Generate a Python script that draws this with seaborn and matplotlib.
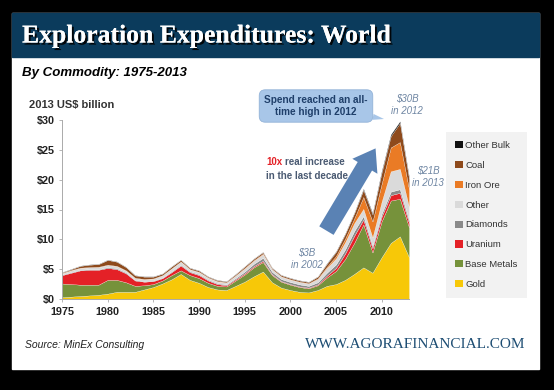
import numpy as np
import pandas as pd
import seaborn as sns
import matplotlib.pyplot as plt
from matplotlib.patches import Rectangle, Patch
import matplotlib.patheffects as pe

# exploration spend by commodity, 2013 US$ billion
years = list(range(1975, 2014))
gold = [0.3, 0.4, 0.5, 0.6, 0.7, 0.9, 1.2, 1.2, 1.2, 1.6,
        2.0, 2.6, 3.3, 4.2, 3.2, 2.7, 2.0, 1.6, 1.5, 2.2,
        2.9, 3.8, 4.6, 2.8, 1.9, 1.5, 1.2, 1.1, 1.5, 2.2,
        2.5, 3.2, 4.2, 5.3, 4.4, 7.0, 9.4, 10.5, 7.0]
base_metals = [2.3, 2.1, 1.9, 1.8, 1.7, 2.3, 2.0, 1.6, 1.0, 0.7,
               0.5, 0.5, 0.7, 0.6, 0.8, 0.8, 0.7, 0.6, 0.6, 0.9,
               1.2, 1.5, 1.6, 1.2, 1.0, 0.9, 0.8, 0.7, 0.8, 1.4,
               2.2, 3.5, 5.2, 7.2, 3.4, 6.0, 7.1, 6.3, 5.0]
uranium = [1.4, 1.9, 2.4, 2.5, 2.5, 2.0, 1.8, 1.5, 0.9, 0.6,
           0.5, 0.4, 0.5, 0.8, 0.5, 0.5, 0.4, 0.3, 0.2, 0.2,
           0.2, 0.2, 0.2, 0.15, 0.1, 0.1, 0.1, 0.1, 0.15, 0.3,
           0.5, 0.9, 1.2, 0.8, 0.7, 0.8, 0.9, 1.0, 0.7]
diamonds = [0.1, 0.1, 0.1, 0.1, 0.1, 0.15, 0.15, 0.15, 0.1, 0.1,
            0.1, 0.1, 0.15, 0.15, 0.15, 0.15, 0.15, 0.15, 0.15, 0.2,
            0.3, 0.4, 0.5, 0.4, 0.35, 0.35, 0.35, 0.3, 0.35, 0.5,
            0.6, 0.7, 0.8, 0.6, 0.4, 0.5, 0.6, 0.6, 0.5]
other = [0.2, 0.3, 0.3, 0.3, 0.35, 0.35, 0.35, 0.3, 0.3, 0.3,
         0.3, 0.35, 0.45, 0.5, 0.3, 0.35, 0.3, 0.3, 0.3, 0.4,
         0.5, 0.5, 0.6, 0.4, 0.4, 0.4, 0.4, 0.4, 0.55, 0.8,
         1.0, 1.2, 1.3, 1.2, 1.4, 2.0, 3.4, 3.4, 2.2]
iron_ore = [0.05, 0.05, 0.05, 0.05, 0.05, 0.05, 0.05, 0.05, 0.05, 0.05,
            0.05, 0.05, 0.05, 0.05, 0.05, 0.05, 0.05, 0.05, 0.05, 0.05,
            0.1, 0.1, 0.1, 0.05, 0.05, 0.05, 0.05, 0.05, 0.1, 0.2,
            0.4, 0.6, 0.8, 2.0, 2.7, 3.0, 4.0, 4.5, 3.0]
coal = [0.1, 0.15, 0.3, 0.4, 0.45, 0.8, 0.7, 0.55, 0.4, 0.4,
        0.3, 0.25, 0.3, 0.25, 0.2, 0.2, 0.15, 0.15, 0.15, 0.2,
        0.25, 0.25, 0.25, 0.2, 0.2, 0.2, 0.2, 0.2, 0.3, 0.5,
        0.7, 0.8, 0.9, 1.2, 1.2, 1.9, 1.9, 3.2, 1.8]
other_bulk = [0.05] * 29 + [0.1, 0.1, 0.1, 0.1, 0.2, 0.2, 0.3, 0.3, 0.3, 0.3]

commodities = ['Gold', 'Base Metals', 'Uranium', 'Diamonds', 'Other',
               'Iron Ore', 'Coal', 'Other Bulk']
colors = ['#f7c808', '#76923b', '#e42127', '#8a8a8a', '#dadada',
          '#ea7b25', '#8e4a1c', '#111111']

df = pd.DataFrame({'Gold': gold, 'Base Metals': base_metals, 'Uranium': uranium,
                   'Diamonds': diamonds, 'Other': other, 'Iron Ore': iron_ore,
                   'Coal': coal, 'Other Bulk': other_bulk}, index=years)

sns.set_style('white')
plt.rcParams['font.family'] = ['Liberation Sans', 'DejaVu Sans']

W, H = 554, 390
fig = plt.figure(figsize=(W / 100, H / 100), dpi=100, facecolor='black')


def fp(x, y):
    # pixel position (from top-left) -> figure pixels
    return (x, H - y)


# white card + navy title band (behind the axes)
fig.patches.append(Rectangle((12 / W, 1 - 369 / H), 527 / W, 356 / H,
                             transform=fig.transFigure, color='white', zorder=-2))
fig.patches.append(Rectangle((12 / W, 1 - 57 / H), 527 / W, 44 / H,
                             transform=fig.transFigure, color='#0b3b5c', zorder=-1))

fig.text(22 / W, 1 - 36 / H, 'Exploration Expenditures: World', color='white',
         family='Liberation Serif', fontweight='bold', fontsize=18.5, va='center',
         path_effects=[pe.withSimplePatchShadow(offset=(1.5, -1.5), shadow_rgbFace='black', alpha=0.9),
                       pe.Normal()])
fig.text(22 / W, 1 - 73 / H, 'By Commodity: 1975-2013', color='black',
         fontweight='bold', fontstyle='italic', fontsize=9.5, va='center')

ax = fig.add_axes([62 / W, 1 - 299 / H, (409 - 62) / W, 179 / H])
ax.patch.set_alpha(0)
ax.stackplot(df.index, [df[c] for c in commodities], colors=colors,
             edgecolor='white', linewidth=0.15)
ax.set_xlim(1975, 2013)
ax.set_ylim(0, 30)
ax.set_xticks(range(1975, 2011, 5))
ax.set_yticks(range(0, 31, 5))
ax.set_yticklabels(['$%d' % v for v in range(0, 31, 5)])
ax.tick_params(axis='both', labelsize=7.8, length=2.5, width=0.6, color='#aaaaaa',
               labelcolor='#222222', pad=3, left=True, bottom=True)
for lab in ax.get_xticklabels() + ax.get_yticklabels():
    lab.set_fontweight('bold')
sns.despine(ax=ax)
for s in ['left', 'bottom']:
    ax.spines[s].set_color('#aaaaaa')
    ax.spines[s].set_linewidth(0.7)

fig.text(29 / W, 1 - 105 / H, '2013 US$ billion', fontweight='bold', fontsize=8,
         color='#333333', va='center')

# legend
handles = [Patch(facecolor=c, edgecolor='none', label=n)
           for n, c in zip(commodities[::-1], colors[::-1])]
leg = fig.legend(handles=handles, loc='upper left', bbox_to_anchor=(446 / W, 1 - 132 / H),
                 frameon=True, fontsize=6.8, handlelength=0.8, handleheight=0.8,
                 handletextpad=0.3, labelspacing=1.15, borderpad=0.95, borderaxespad=0)
leg.get_frame().set_facecolor('#efefef')
leg.get_frame().set_edgecolor('none')
leg.get_frame().set_boxstyle('square', pad=0)
for t in leg.get_texts():
    t.set_color('#333333')

note = '#6f86a3'
fig.text(407 / W, 1 - 105 / H, '$30B\nin 2012', color=note, fontstyle='italic',
         fontsize=7, ha='center', va='center', linespacing=1.3)
fig.text(428 / W, 1 - 177 / H, '$21B\nin 2013', color=note, fontstyle='italic',
         fontsize=7, ha='center', va='center', linespacing=1.3)
fig.text(307 / W, 1 - 259 / H, '$3B\nin 2002', color=note, fontstyle='italic',
         fontsize=7, ha='center', va='center', linespacing=1.3)

fig.text(266 / W, 1 - 162 / H, '10x', color='#e42127', fontweight='bold',
         fontsize=7, va='center')
fig.text(285 / W, 1 - 162 / H, 'real increase', color='#4a5a72', fontweight='bold',
         fontsize=7, va='center')
fig.text(266 / W, 1 - 176 / H, 'in the last decade', color='#4a5a72', fontweight='bold',
         fontsize=7, va='center')

# big arrow
fig.add_artist(plt.Annotation('', xy=fp(377, 146), xytext=fp(325, 233), xycoords='figure pixels',
               textcoords='figure pixels',
               arrowprops=dict(arrowstyle='simple,head_width=1.4,head_length=1.0,tail_width=0.8',
                               fc='#5a82b4', ec='none', mutation_scale=15)))

# callout box
fig.add_artist(plt.Annotation('Spend reached an all-\ntime high in 2012', xy=fp(384, 119),
               xytext=fp(316, 106), xycoords='figure pixels', textcoords='figure pixels',
               ha='center', va='center', fontsize=7.2, fontweight='bold', color='#1f3f6a',
               linespacing=1.3,
               bbox=dict(boxstyle='round,pad=0.5,rounding_size=0.6', fc='#a8c6e8', ec='#93b3d8', lw=0.6),
               arrowprops=dict(arrowstyle='wedge,tail_width=0.6,shrink_factor=0.5', fc='#a8c6e8',
                               ec='none', shrinkA=0, shrinkB=0)))

fig.text(25 / W, 1 - 345 / H, 'Source: MinEx Consulting', fontstyle='italic', fontsize=7.5,
         color='#222222', va='center')
fig.text(525 / W, 1 - 345 / H, 'WWW.AGORAFINANCIAL.COM', family='Liberation Serif',
         fontsize=11, color='#1d4d73', ha='right', va='center')

fig.savefig('out.png', dpi=100, facecolor='black')
